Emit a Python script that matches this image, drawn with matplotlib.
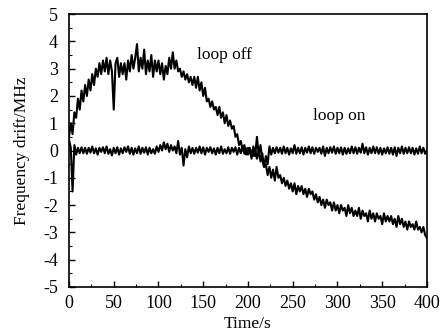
import numpy as np
import matplotlib
matplotlib.use("Agg")
import matplotlib.pyplot as plt
from matplotlib.ticker import MultipleLocator

plt.rcParams['font.family'] = ['Liberation Serif', 'DejaVu Serif']
plt.rcParams['axes.unicode_minus'] = False

time_s = np.arange(0, 401, 2)

loop_off = [
    0.5, 1.0, 0.6, 1.4, 1.2, 1.9, 1.5, 2.2, 1.8, 2.4,
    2.0, 2.6, 2.2, 2.8, 2.4, 3.0, 2.7, 3.2, 2.8, 3.3,
    2.9, 3.4, 2.8, 3.3, 2.9, 1.5, 3.2, 3.4, 2.7, 3.2,
    2.8, 3.2, 2.6, 3.3, 2.9, 3.5, 3.0, 3.4, 3.9, 2.9,
    3.4, 3.0, 3.7, 2.8, 3.3, 2.9, 3.5, 2.7, 3.3, 2.9,
    3.3, 2.8, 3.2, 2.6, 3.1, 2.8, 3.4, 3.0, 3.6, 3.0,
    3.3, 2.9, 3.0, 2.7, 2.9, 2.6, 2.8, 2.5, 2.7, 2.4,
    2.7, 2.3, 2.7, 2.2, 2.5, 2.0, 2.3, 1.8, 1.9, 1.6,
    1.8, 1.5, 1.6, 1.3, 1.6, 1.2, 1.4, 1.0, 1.3, 0.9,
    1.1, 0.8, 0.9, 0.5, 0.6, 0.2, 0.35, 0.0, 0.2, -0.15,
    0.1, -0.1, 0.0, -0.2, 0.05, -0.3, 0.0, -0.4, -0.1, -0.6,
    -0.5, -0.9, -0.6, -1.0, -0.7, -1.1, -0.6, -1.0, -0.9, -1.2,
    -1.0, -1.3, -1.1, -1.4, -1.2, -1.5, -1.2, -1.6, -1.3, -1.5,
    -1.3, -1.6, -1.4, -1.7, -1.4, -1.6, -1.5, -1.8, -1.6, -1.9,
    -1.7, -2.0, -1.8, -2.1, -1.8, -2.0, -1.9, -2.2, -1.9, -2.2,
    -2.0, -2.3, -2.0, -2.2, -2.1, -2.4, -2.0, -2.3, -2.1, -2.4,
    -2.2, -2.4, -2.1, -2.5, -2.2, -2.4, -2.3, -2.6, -2.2, -2.5,
    -2.3, -2.6, -2.3, -2.5, -2.4, -2.7, -2.3, -2.6, -2.4, -2.6,
    -2.4, -2.7, -2.5, -2.8, -2.4, -2.7, -2.5, -2.8, -2.6, -2.9,
    -2.6, -2.8, -2.7, -2.9, -2.6, -2.9, -2.8, -3.0, -2.8, -3.1,
    -3.2,
]

loop_on = [
    0.4, 0.1, -1.5, 0.2, -0.15, 0.1, -0.1, 0.12, -0.1, 0.1,
    -0.12, 0.1, -0.08, 0.15, -0.1, 0.08, -0.15, 0.1, -0.05, 0.12,
    -0.1, 0.15, -0.12, 0.05, -0.18, 0.1, -0.1, 0.12, -0.15, 0.08,
    -0.1, 0.12, -0.05, 0.15, -0.12, 0.1, -0.15, 0.08, -0.1, 0.15,
    -0.12, 0.1, -0.08, 0.12, -0.15, 0.1, -0.1, 0.05, -0.12, 0.15,
    -0.05, 0.2, 0.0, 0.3, 0.05, 0.25, -0.05, 0.2, 0.0, 0.15,
    -0.1, 0.35, -0.15, 0.1, -0.55, 0.05, -0.25, 0.15, -0.1, 0.1,
    -0.12, 0.1, -0.08, 0.15, -0.1, 0.12, -0.15, 0.1, -0.05, 0.12,
    -0.1, 0.08, -0.15, 0.1, -0.1, 0.15, -0.12, 0.05, -0.1, 0.12,
    -0.12, 0.1, -0.05, 0.12, -0.15, 0.1, -0.1, 0.15, -0.12, 0.08,
    -0.15, 0.1, -0.3, 0.15, -0.2, 0.5, -0.15, 0.2, -0.35, -0.6,
    -0.2, -0.5, 0.15, -0.15, 0.1, -0.1, 0.12, -0.08, 0.1, -0.12,
    0.15, -0.1, 0.1, -0.15, 0.08, -0.1, 0.2, -0.12, 0.1, -0.1,
    0.12, -0.15, 0.1, -0.08, 0.15, -0.1, 0.12, -0.12, 0.1, -0.05,
    0.1, -0.12, 0.15, -0.2, 0.1, -0.1, 0.12, -0.08, 0.15, -0.12,
    0.1, -0.1, 0.12, -0.15, 0.1, -0.12, 0.08, -0.1, 0.15, -0.1,
    0.12, -0.12, 0.1, -0.08, 0.25, -0.1, 0.12, -0.15, 0.1, -0.1,
    0.15, -0.1, 0.12, -0.12, 0.1, -0.15, 0.08, -0.1, 0.12, -0.12,
    0.1, -0.15, 0.12, -0.2, 0.1, -0.1, 0.15, -0.12, 0.1, -0.1,
    0.12, -0.1, 0.1, -0.15, 0.08, -0.12, 0.15, -0.1, 0.1, -0.12,
    0.0,
]

x_ticks = [0, 50, 100, 150, 200, 250, 300, 350, 400]
y_ticks = [-5, -4, -3, -2, -1, 0, 1, 2, 3, 4, 5]

fig = plt.figure(figsize=(4.48, 3.36), dpi=100)
ax = fig.add_axes([0.154, 0.146, 0.799, 0.812])

ax.plot(time_s, loop_off, color='black', lw=1.5)
ax.plot(time_s, loop_on, color='black', lw=1.5)

ax.set_xlim(0, 400)
ax.set_ylim(-5, 5)
ax.set_xticks(x_ticks)
ax.set_yticks(y_ticks)
ax.xaxis.set_minor_locator(MultipleLocator(25))
ax.yaxis.set_minor_locator(MultipleLocator(0.5))
ax.tick_params(which='both', direction='in', top=False, right=False, labelsize=13)
ax.tick_params(axis='x', which='major', pad=6)
ax.tick_params(axis='y', which='major', pad=8)
ax.tick_params(which='major', length=4, width=1)
ax.tick_params(which='minor', length=2, width=0.8)
for s in ax.spines.values():
    s.set_linewidth(1.2)

ax.text(143, 3.5, 'loop off', fontsize=12.5, va='center')
ax.text(273, 1.26, 'loop on', fontsize=12.5, va='center')

ax.set_xlabel('Time/s', fontsize=12.5, labelpad=3)
ax.set_ylabel('Frequency drift/MHz', fontsize=12.5, labelpad=9)

fig.savefig('out.png', dpi=100)
